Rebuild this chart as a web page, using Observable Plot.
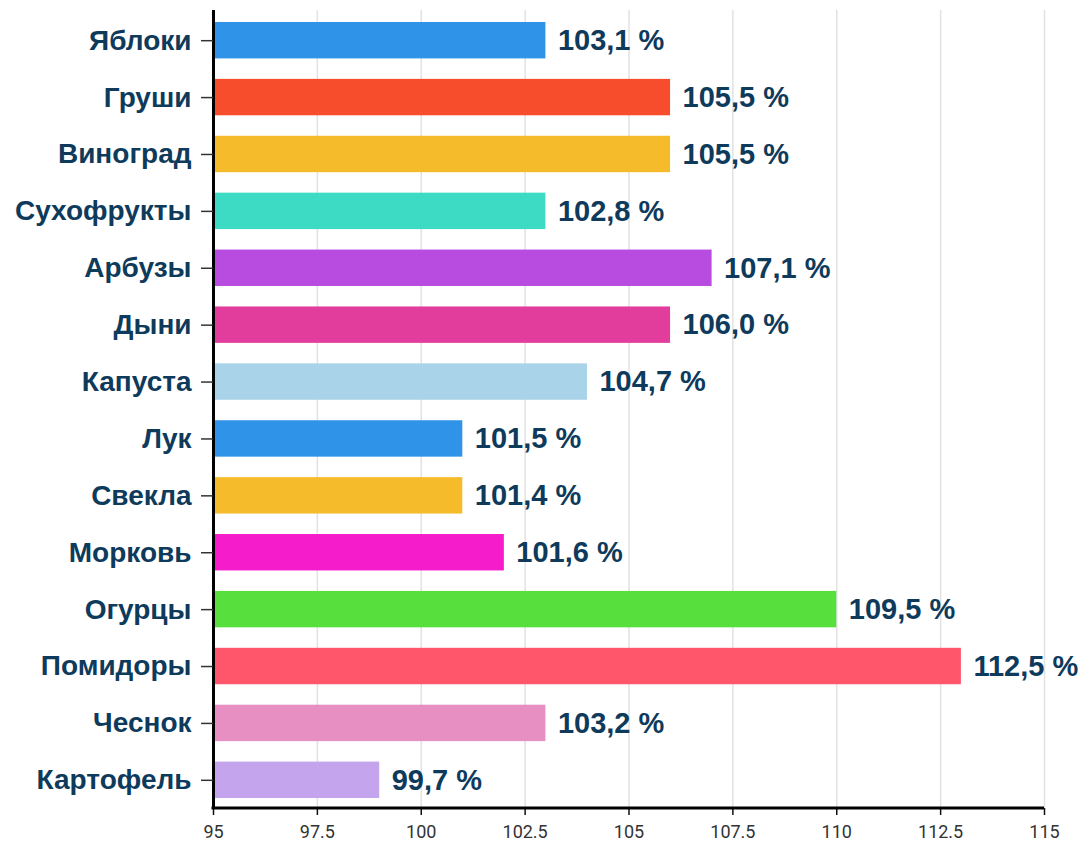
<!DOCTYPE html>
<html>
<head>
<meta charset="utf-8">
<script src="https://cdn.jsdelivr.net/npm/d3@7"></script>
<script src="https://cdn.jsdelivr.net/npm/@observablehq/plot@0.6"></script>
<style>
  html, body { margin: 0; padding: 0; background: #fff; }
  #chart svg { display: block; overflow: visible; }
</style>
</head>
<body>
<div id="chart"></div>
<script>
const categories = ["Яблоки", "Груши", "Виноград", "Сухофрукты", "Арбузы", "Дыни", "Капуста", "Лук", "Свекла", "Морковь", "Огурцы", "Помидоры", "Чеснок", "Картофель"];
const barValues = [103, 106, 106, 103, 107, 106, 104, 101, 101, 102, 110, 113, 103, 99];
const valueLabels = ["103,1 %", "105,5 %", "105,5 %", "102,8 %", "107,1 %", "106,0 %", "104,7 %", "101,5 %", "101,4 %", "101,6 %", "109,5 %", "112,5 %", "103,2 %", "99,7 %"];
const barColors = ["#2f93e8", "#f74d2c", "#f5bb2a", "#3ddbc4", "#b84be0", "#e23c9c", "#a9d3e8", "#2f93e8", "#f5bb2a", "#f51dcb", "#57e03d", "#ff566c", "#e78ec2", "#c4a4ec"];
const xTicks = [95, 97.5, 100, 102.5, 105, 107.5, 110, 112.5, 115];
const xDomain = [95, 115];

const data = categories.map((c, i) => ({cat: c, value: barValues[i], label: valueLabels[i], color: barColors[i]}));

const navy = "#0e3a5b";
const W = 1081, H = 843, MT = 10, MB = 35;

const chart = Plot.plot({
  width: W,
  height: H,
  marginLeft: 213,
  marginRight: 37,
  marginTop: MT,
  marginBottom: MB,
  x: {domain: xDomain, label: null},
  y: {domain: categories, padding: 0.36, round: false, range: [1.5, 818.5], label: null},
  color: {type: "identity"},
  style: {fontFamily: "'Liberation Sans', Arial, sans-serif", background: "#fff"},
  marks: [
    Plot.gridX(xTicks, {stroke: "#e2e2e2", strokeOpacity: 1, strokeWidth: 1.5}),
    Plot.barX(data, {y: "cat", x1: xDomain[0], x2: "value", fill: "color"}),
    Plot.text(data, {y: "cat", x: "value", text: "label", dx: 12, textAnchor: "start",
      fontSize: 29, fontWeight: "bold", fill: navy, fontFamily: "'Liberation Sans', Arial, sans-serif"}),
    Plot.ruleX([xDomain[0]], {stroke: "#000", strokeWidth: 3}),
    Plot.axisX(xTicks, {tickSize: 7, tickPadding: 10, fontSize: 18, fontFamily: "Roboto, sans-serif",
      stroke: "#111", strokeWidth: 1.5, fill: "#333", tickFormat: d => String(d), label: null}),
    Plot.axisY({tickSize: 12, tickPadding: 10, fontSize: 28, fontWeight: "bold", label: null,
      fill: navy, stroke: "#333", strokeWidth: 1.5, fontFamily: "'Liberation Sans', Arial, sans-serif"})
  ]
});

// x-axis baseline drawn from the plot's x scale at the bottom of the frame
const xs = chart.scale("x");
d3.select(chart).append("line")
  .attr("x1", xs.range[0] - 1.5)
  .attr("x2", xs.range[1])
  .attr("y1", H - MB)
  .attr("y2", H - MB)
  .attr("stroke", "#000")
  .attr("stroke-width", 3);

document.getElementById("chart").appendChild(chart);
</script>
</body>
</html>
